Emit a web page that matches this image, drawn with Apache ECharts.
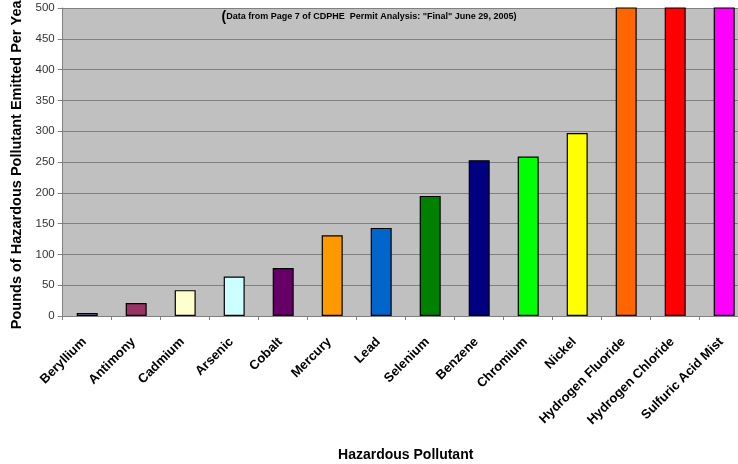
<!DOCTYPE html>
<html>
<head>
<meta charset="utf-8">
<script src="https://cdn.jsdelivr.net/npm/echarts@6/dist/echarts.min.js"></script>
<style>
  html, body { margin: 0; padding: 0; background: #ffffff; }
  #chart { width: 738px; height: 464px; }
</style>
</head>
<body>
<div id="chart"></div>
<script>
// Pollutants and their annual emissions (pounds per year)
const pollutants = [
  'Beryllium', 'Antimony', 'Cadmium', 'Arsenic', 'Cobalt', 'Mercury', 'Lead',
  'Selenium', 'Benzene', 'Chromium', 'Nickel', 'Hydrogen Fluoride',
  'Hydrogen Chloride', 'Sulfuric Acid Mist'
];
const poundsPerYear = [5, 21, 42, 64, 78, 131, 143, 195, 253, 259, 297, 3800, 9600, 12400];
const barColors = [
  '#666699', '#993366', '#FFFFCC', '#CCFFFF', '#660066', '#FF9900', '#0066CC',
  '#008000', '#000080', '#00FF00', '#FFFF00', '#FF6600', '#FF0000', '#FF00FF'
];
const yTicks = [0, 50, 100, 150, 200, 250, 300, 350, 400, 450, 500];

const FONT = '"Liberation Sans", Arial, sans-serif';
const chart = echarts.init(document.getElementById('chart'));

chart.setOption({
  animation: false,
  title: {
    text: '{p|(}{t|Data from Page 7 of CDPHE  Permit Analysis: "Final" June 29, 2005)}',
    left: 'center',
    top: 5,
    textStyle: {
      rich: {
        p: { fontFamily: FONT, fontSize: 14, fontWeight: 'bold', color: '#000' },
        t: { fontFamily: FONT, fontSize: 9, fontWeight: 'bold', color: '#000' }
      }
    }
  },
  grid: {
    left: 62.7,
    right: -10.7,
    top: 8,
    bottom: 148,
    containLabel: false,
    outerBoundsMode: 'none',
    show: true,
    backgroundColor: '#C0C0C0',
    borderWidth: 0
  },
  xAxis: {
    type: 'category',
    data: pollutants,
    name: 'Hazardous Pollutant',
    nameLocation: 'middle',
    nameGap: 132,
    nameTextStyle: { fontFamily: FONT, fontSize: 14, fontWeight: 'bold', color: '#000' },
    axisLine: { show: true, lineStyle: { color: '#808080', width: 1 } },
    axisTick: { show: true, alignWithLabel: false, length: 4, lineStyle: { color: '#808080' } },
    axisLabel: {
      interval: 0,
      rotate: 45,
      margin: 21,
      padding: [0, 4, 0, 0],
      fontFamily: FONT,
      fontSize: 13,
      fontWeight: 'bold',
      color: '#000'
    }
  },
  yAxis: {
    type: 'value',
    min: 0,
    max: yTicks[yTicks.length - 1],
    interval: yTicks[1] - yTicks[0],
    name: 'Pounds of Hazardous Pollutant Emitted Per Year',
    nameLocation: 'middle',
    nameGap: 36,
    nameTextStyle: { fontFamily: FONT, fontSize: 14.5, fontWeight: 'bold', color: '#000' },
    axisLine: { show: true, lineStyle: { color: '#808080', width: 1 } },
    axisTick: { show: true, length: 5, lineStyle: { color: '#808080' } },
    axisLabel: { fontFamily: FONT, fontSize: 11.5, color: '#333', margin: 8 },
    splitLine: { show: true, lineStyle: { color: '#808080', width: 1.2 } }
  },
  series: [{
    type: 'bar',
    clip: true,
    barWidth: 21,
    data: poundsPerYear.map((v, i) => ({
      value: v,
      itemStyle: { color: barColors[i], borderColor: '#000', borderWidth: 1.2 }
    }))
  }]
});
</script>
</body>
</html>
